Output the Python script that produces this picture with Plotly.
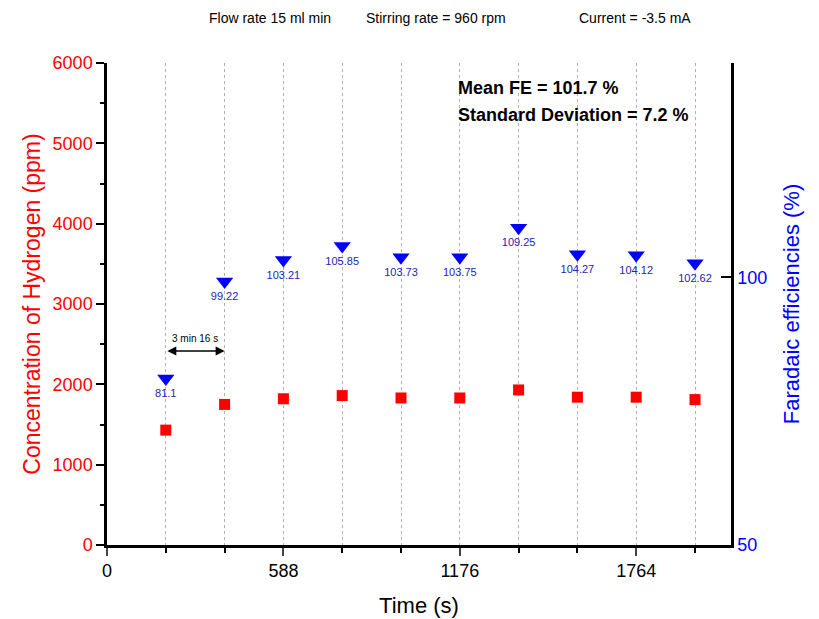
import plotly.graph_objects as go

time_s = [196, 392, 588, 784, 980, 1176, 1372, 1568, 1764, 1960]
h2_ppm = [1430, 1750, 1820, 1860, 1830, 1830, 1930, 1840, 1840, 1810]
fe_pct = [81.1, 99.22, 103.21, 105.85, 103.73, 103.75, 109.25, 104.27, 104.12, 102.62]
fe_labels = ["81.1", "99.22", "103.21", "105.85", "103.73", "103.75", "109.25", "104.27", "104.12", "102.62"]
x_ticks = [0, 588, 1176, 1764]

FONT = "Liberation Sans, Arial, sans-serif"

fig = go.Figure()
fig.add_trace(go.Scatter(
    x=time_s, y=h2_ppm, mode="markers",
    marker=dict(symbol="square", size=11, color="#ff0000"),
    yaxis="y", showlegend=False))
fig.add_trace(go.Scatter(
    x=time_s, y=fe_pct, mode="markers+text", text=fe_labels,
    textposition="bottom center",
    textfont=dict(family=FONT, size=11, color="#2323b8"),
    marker=dict(symbol="triangle-down", size=15, color="#0000ff"),
    yaxis="y2", showlegend=False))

fig.update_layout(
    width=819, height=619,
    margin=dict(l=107, r=88, t=63, b=74),
    plot_bgcolor="white", paper_bgcolor="white",
    font=dict(family=FONT),
    xaxis=dict(
        range=[0, 2080], tickvals=x_ticks, ticks="outside", ticklen=8, tickwidth=2,
        tickfont=dict(size=18, color="black"),
        showline=True, linewidth=2.5, linecolor="black", mirror=False,
        showgrid=True, gridcolor="#b0b0b0", griddash="dot", gridwidth=1,
        minor=dict(dtick=196, tick0=0, ticks="outside", ticklen=5, tickwidth=2, tickcolor="black",
                   showgrid=True, gridcolor="#b0b0b0", griddash="dot", gridwidth=1),
        title=dict(text="Time (s)", font=dict(size=22, color="black"), standoff=18),
        zeroline=False, automargin=False),
    yaxis=dict(
        range=[0, 6000], dtick=1000, ticks="outside", ticklen=8, tickwidth=2, tickcolor="black",
        tickfont=dict(size=18, color="#ff0000"),
        showline=True, linewidth=2.5, linecolor="black", showgrid=False, zeroline=False,
        minor=dict(dtick=500, ticks="outside", ticklen=4, tickwidth=2, tickcolor="black"),
        title=dict(text="Concentration of Hydrogen (ppm)", font=dict(size=23, color="#ff0000"), standoff=6),
        automargin=False),
    yaxis2=dict(
        range=[50, 140], dtick=50, tick0=50, overlaying="y", side="right",
        ticks="inside", ticklen=10, tickwidth=2, tickcolor="black",
        tickfont=dict(size=18, color="#0000ff"),
        showline=True, linewidth=2.5, linecolor="black", showgrid=False, zeroline=False,
        title=dict(text="Faradaic efficiencies (%)", font=dict(size=22, color="#0000ff"), standoff=18),
        automargin=False),
)

# double arrow interval annotation
fig.add_annotation(x=time_s[1], y=2415, ax=time_s[0], ay=2415, xref="x", yref="y", axref="x", ayref="y",
                   text="", showarrow=True, arrowhead=2, arrowside="end+start", arrowsize=1.2, arrowwidth=1.5,
                   arrowcolor="black")
fig.add_annotation(x=(time_s[0] + time_s[1]) / 2, y=2570, xref="x", yref="y", text="3 min 16 s",
                   showarrow=False, font=dict(size=10, color="black"))

fig.add_annotation(x=0.56, y=0.948, xref="paper", yref="paper", xanchor="left", yanchor="middle",
                   text="<b>Mean FE = 101.7 %</b>", showarrow=False,
                   font=dict(size=18, color="black"))
fig.add_annotation(x=0.56, y=0.893, xref="paper", yref="paper", xanchor="left", yanchor="middle",
                   text="<b>Standard Deviation = 7.2 %</b>", showarrow=False,
                   font=dict(size=18, color="black"))

for txt, px in [("Flow rate 15 ml min", 270), ("Stirring rate = 960 rpm", 436), ("Current = -3.5 mA", 635)]:
    fig.add_annotation(x=(px - 107) / 624, y=(545 - 18) / 482, xref="paper", yref="paper",
                       xanchor="center", yanchor="middle",
                       text=txt, showarrow=False, font=dict(size=14, color="black"))

fig.write_html("out.html", config={"displayModeBar": False},
               post_script="document.body.style.margin='0';")
